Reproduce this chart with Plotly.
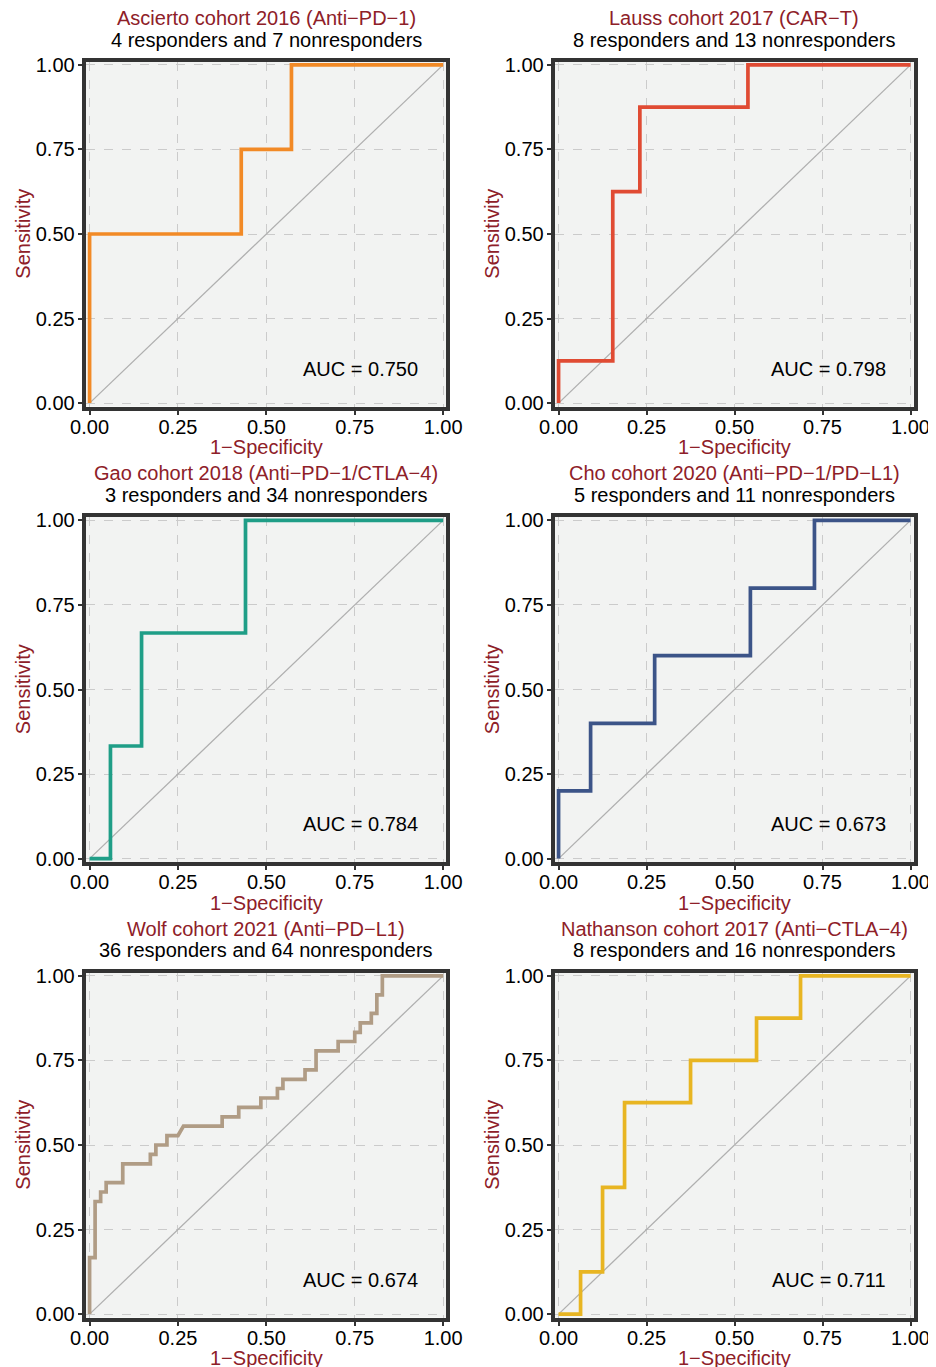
import plotly.graph_objects as go

W, H = 936, 1367
OFF = 8  # page body margin
FW, FH = W - OFF, H - OFF

titles = ["Ascierto cohort 2016 (Anti−PD−1)", "Lauss cohort 2017 (CAR−T)",
          "Gao cohort 2018 (Anti−PD−1/CTLA−4)", "Cho cohort 2020 (Anti−PD−1/PD−L1)",
          "Wolf cohort 2021 (Anti−PD−L1)", "Nathanson cohort 2017 (Anti−CTLA−4)"]
subtitles = ["4 responders and 7 nonresponders", "8 responders and 13 nonresponders",
             "3 responders and 34 nonresponders", "5 responders and 11 nonresponders",
             "36 responders and 64 nonresponders", "8 responders and 16 nonresponders"]
auc_labels = ["AUC = 0.750", "AUC = 0.798", "AUC = 0.784", "AUC = 0.673", "AUC = 0.674", "AUC = 0.711"]
colors = ["#F28A26", "#E04B33", "#1F9E87", "#3C5488", "#B09C85", "#E8B522"]

ascierto_fpr = [0, 0, 0.429, 0.429, 0.571, 0.571, 1]
ascierto_tpr = [0, 0.5, 0.5, 0.75, 0.75, 1, 1]

lauss_fpr = [0, 0, 0.154, 0.154, 0.231, 0.231, 0.538, 0.538, 1]
lauss_tpr = [0, 0.125, 0.125, 0.625, 0.625, 0.875, 0.875, 1, 1]

gao_fpr = [0, 0.059, 0.059, 0.147, 0.147, 0.441, 0.441, 1]
gao_tpr = [0, 0, 0.333, 0.333, 0.667, 0.667, 1, 1]

cho_fpr = [0, 0, 0.091, 0.091, 0.273, 0.273, 0.545, 0.545, 0.727, 0.727, 1]
cho_tpr = [0, 0.2, 0.2, 0.4, 0.4, 0.6, 0.6, 0.8, 0.8, 1, 1]

wolf_fpr = [0, 0, 0.0156, 0.0156, 0.0313, 0.0313, 0.0469, 0.0469, 0.0938, 0.0938,
            0.1719, 0.1719, 0.1875, 0.1875, 0.2188, 0.2188, 0.25, 0.2656, 0.375, 0.375,
            0.4219, 0.4219, 0.4844, 0.4844, 0.5313, 0.5313, 0.5469, 0.5469, 0.6094, 0.6094,
            0.6406, 0.6406, 0.7031, 0.7031, 0.75, 0.75, 0.7656, 0.7656, 0.7969, 0.7969,
            0.8125, 0.8125, 0.8281, 0.8281, 1]
wolf_tpr = [0, 0.167, 0.167, 0.333, 0.333, 0.361, 0.361, 0.389, 0.389, 0.444,
            0.444, 0.472, 0.472, 0.5, 0.5, 0.528, 0.528, 0.556, 0.556, 0.583,
            0.583, 0.611, 0.611, 0.639, 0.639, 0.667, 0.667, 0.694, 0.694, 0.722,
            0.722, 0.778, 0.778, 0.806, 0.806, 0.833, 0.833, 0.861, 0.861, 0.889,
            0.889, 0.944, 0.944, 1, 1]

nathanson_fpr = [0, 0.0625, 0.0625, 0.125, 0.125, 0.1875, 0.1875, 0.375, 0.375,
                 0.5625, 0.5625, 0.6875, 0.6875, 1]
nathanson_tpr = [0, 0, 0.125, 0.125, 0.375, 0.375, 0.625, 0.625, 0.75, 0.75,
                 0.875, 0.875, 1, 1]

curves = [(ascierto_fpr, ascierto_tpr), (lauss_fpr, lauss_tpr), (gao_fpr, gao_tpr),
          (cho_fpr, cho_tpr), (wolf_fpr, wolf_tpr), (nathanson_fpr, nathanson_tpr)]

ticks = [0, 0.25, 0.5, 0.75, 1]
tick_text = ["0.00", "0.25", "0.50", "0.75", "1.00"]

FONT = "Liberation Sans, Arial, Helvetica, sans-serif"
FS = 20
RED = "#8E2028"
LW = 4  # frame width

# frame line centres in screen pixels
col_frames = [(83.7, 448.3), (552.7, 915.7)]
row_tops = [59.5, 515.0, 970.5]
row_h = 349.0


def px(x):
    return (x - OFF) / FW


def py(y):
    return 1 - (y - OFF) / FH


fig = go.Figure()
layout = dict(width=FW, height=FH, margin=dict(l=0, r=0, t=0, b=0, pad=0, autoexpand=False),
              paper_bgcolor="white", plot_bgcolor="#F2F3F2", showlegend=False,
              font=dict(family=FONT, size=FS, color="black"))
annotations = []

for i in range(6):
    r, c = divmod(i, 2)
    fx0, fx1 = col_frames[c]
    fy0 = row_tops[r]
    fy1 = fy0 + row_h
    xd = [px(fx0 + LW / 2), px(fx1 - LW / 2)]
    yd = [py(fy1 - LW / 2), py(fy0 + LW / 2)]
    xa = "xaxis" if i == 0 else f"xaxis{i+1}"
    ya = "yaxis" if i == 0 else f"yaxis{i+1}"
    xr = "x" if i == 0 else f"x{i+1}"
    yr = "y" if i == 0 else f"y{i+1}"
    common = dict(showline=True, mirror=True, linewidth=LW, linecolor="#333333",
                  ticks="outside", ticklen=4, tickwidth=1.5, tickcolor="#333333",
                  tickvals=ticks, ticktext=tick_text, showgrid=True, gridcolor="#CBCBCB",
                  gridwidth=1.3, griddash="dash", zeroline=False, automargin=False,
                  tickfont=dict(family=FONT, size=FS, color="black"), fixedrange=True)
    layout[xa] = dict(domain=xd, range=[-0.011, 1.009], anchor=yr, ticklabelstandoff=-5, **common)
    layout[ya] = dict(domain=yd, range=[-0.01, 1.01], anchor=xr, ticklabelstandoff=-1, **common)

    fig.add_trace(go.Scatter(x=[0, 1], y=[0, 1], mode="lines",
                             line=dict(color="#AFAFAF", width=1.3),
                             xaxis=xr, yaxis=yr, hoverinfo="skip"))
    fx, ty = curves[i]
    fig.add_trace(go.Scatter(x=fx, y=ty, mode="lines",
                             line=dict(color=colors[i], width=3.7),
                             xaxis=xr, yaxis=yr))

    cx = px((fx0 + fx1) / 2)
    annotations.append(dict(text=titles[i], x=cx, y=py(fy0 - 41.5), xref="paper",
                            yref="paper", xanchor="center", yanchor="middle", showarrow=False,
                            font=dict(family=FONT, size=FS, color=RED)))
    annotations.append(dict(text=subtitles[i], x=cx, y=py(fy0 - 20), xref="paper",
                            yref="paper", xanchor="center", yanchor="middle", showarrow=False,
                            font=dict(family=FONT, size=FS, color="black")))
    annotations.append(dict(text="1−Specificity", x=cx, y=py(fy1 + 38.5), xref="paper",
                            yref="paper", xanchor="center", yanchor="middle", showarrow=False,
                            font=dict(family=FONT, size=FS, color=RED)))
    annotations.append(dict(text="Sensitivity", x=px(fx0 - 61), y=py((fy0 + fy1) / 2),
                            xref="paper", yref="paper", xanchor="center", yanchor="middle",
                            textangle=-90, showarrow=False,
                            font=dict(family=FONT, size=FS, color=RED)))
    annotations.append(dict(text=auc_labels[i], x=0.767, y=0.102, xref=xr, yref=yr,
                            xanchor="center", yanchor="middle", showarrow=False,
                            font=dict(family=FONT, size=FS, color="black")))

layout["annotations"] = annotations
fig.update_layout(**layout)
fig.write_html("out.html")
